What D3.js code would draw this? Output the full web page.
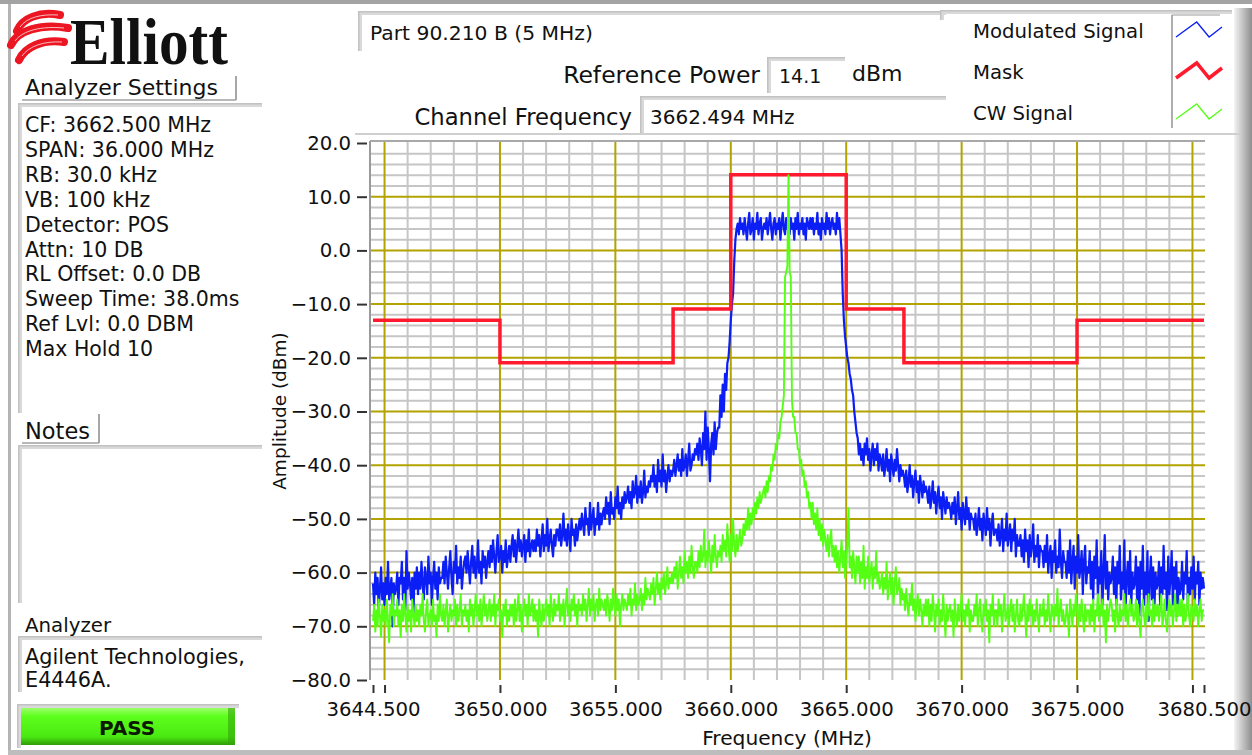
<!DOCTYPE html>
<html>
<head>
<meta charset="utf-8">
<script src="https://cdn.jsdelivr.net/npm/d3@7"></script>
<style>
  body { margin: 0; background: #fff; }
  svg { display: block; }
  text { font-family: "DejaVu Sans", Verdana, sans-serif; fill: #111; }
</style>
</head>
<body>
<svg id="chart" width="1252" height="755"></svg>
<script>
// Sweep: 3644.5 MHz to 3680.5 MHz, one sample every 0.05 MHz (amplitudes in dBm),
// one row per MHz
const sweepStartMHz = 3644.5;
const sweepStepMHz = 0.05;

const modulatedSignal = [
  -62,-66,-60,-64,-61,-67,-63,-59,-65,-62,-66,-61,-64,-58,-65,-63,-61,-70,-62,-64,
  -63,-60,-66,-61,-62,-58,-65,-61,-67,-56,-63,-60,-62,-65,-61,-68,-60,-63,-59,-64,
  -60,-63,-58,-62,-65,-59,-61,-64,-57,-62,-60,-66,-61,-58,-63,-60,-65,-59,-62,-61,
  -61,-58,-62,-57,-60,-63,-59,-56,-61,-64,-58,-60,-55,-62,-59,-61,-57,-63,-60,-58,
  -57,-60,-56,-59,-62,-58,-55,-60,-57,-61,-59,-54,-60,-58,-62,-56,-59,-57,-61,-58,
  -56,-59,-55,-58,-54,-57,-60,-56,-53,-58,-57,-55,-60,-56,-58,-54,-59,-57,-55,-58,
  -55,-53,-57,-54,-58,-55,-52,-56,-54,-57,-55,-53,-58,-54,-56,-52,-57,-55,-54,-56,
  -54,-56,-52,-55,-53,-57,-54,-51,-56,-53,-55,-50,-56,-54,-52,-55,-57,-53,-55,-52,
  -52,-54,-51,-55,-53,-49,-54,-52,-55,-51,-53,-56,-50,-53,-52,-55,-51,-54,-52,-50,
  -52,-49,-51,-53,-48,-51,-50,-53,-47,-52,-50,-48,-53,-50,-51,-47,-52,-49,-51,-49,
  -48,-50,-46,-49,-47,-51,-45,-49,-48,-50,-46,-48,-44,-49,-47,-50,-46,-48,-45,-47,
  -46,-44,-47,-45,-48,-43,-46,-45,-42,-47,-44,-46,-43,-47,-45,-41,-46,-44,-45,-43,
  -44,-42,-43,-40,-44,-42,-45,-39,-43,-41,-44,-38,-43,-41,-45,-42,-40,-43,-41,-42,
  -41,-39,-42,-40,-38,-41,-39,-42,-37,-41,-40,-38,-42,-39,-36,-41,-40,-38,-39,-37,
  -38,-36,-39,-35,-37,-40,-34,-37,-30,-39,-33,-37,-43,-36,-34,-38,-32,-37,-34,-33,
  -33,-27,-31,-25,-30,-23,-26,-21,-20,-17,-13,-10,-8,-2,2,4,5,3,6,4,
  5,3,6,4,2,5,7,3,4,6,2,5,4,7,3,5,6,2,4,5,
  4,6,3,5,7,4,2,5,6,3,5,4,6,2,5,7,4,3,6,4,
  5,3,6,4,5,2,6,4,7,3,5,4,6,3,5,2,6,5,4,6,
  4,6,3,5,4,7,3,5,2,6,4,5,3,7,4,6,3,5,6,4,
  5,3,7,4,6,3,0,-8,-13,-16,-18,-20,-21,-23,-24,-26,-27,-30,-32,-34,
  -35,-38,-36,-39,-37,-40,-36,-38,-35,-39,-37,-41,-38,-36,-40,-37,-39,-36,-41,-38,
  -39,-41,-38,-42,-40,-37,-41,-39,-43,-38,-40,-42,-39,-41,-37,-40,-43,-40,-42,-41,
  -42,-44,-41,-45,-43,-40,-44,-42,-46,-43,-41,-45,-43,-47,-42,-44,-46,-43,-45,-44,
  -45,-47,-44,-48,-46,-43,-47,-45,-49,-46,-44,-48,-46,-50,-45,-47,-49,-46,-48,-47,
  -48,-50,-47,-49,-46,-51,-48,-45,-50,-48,-52,-47,-49,-51,-46,-50,-48,-52,-49,-50,
  -50,-52,-49,-53,-51,-48,-52,-50,-54,-49,-51,-53,-48,-52,-50,-55,-51,-49,-53,-52,
  -52,-54,-51,-55,-53,-50,-56,-52,-54,-49,-55,-53,-51,-56,-52,-54,-50,-57,-53,-55,
  -55,-53,-57,-54,-58,-52,-56,-54,-59,-53,-57,-55,-51,-58,-55,-57,-53,-59,-55,-56,
  -56,-59,-55,-58,-53,-60,-57,-55,-61,-56,-58,-54,-60,-57,-59,-52,-58,-61,-56,-58,
  -58,-61,-56,-60,-54,-62,-58,-55,-63,-57,-60,-53,-61,-59,-56,-64,-58,-55,-62,-59,
  -60,-56,-63,-58,-65,-57,-61,-54,-64,-59,-62,-56,-66,-60,-53,-63,-58,-65,-60,-62,
  -61,-57,-64,-59,-66,-58,-62,-55,-65,-60,-63,-54,-67,-61,-58,-64,-56,-66,-60,-63,
  -62,-57,-65,-59,-68,-58,-63,-55,-66,-60,-64,-56,-69,-61,-57,-65,-59,-67,-60,-63,
  -62,-58,-66,-59,-64,-55,-63,-60,-67,-57,-64,-61,-56,-66,-59,-63,-58,-68,-61,-64,
  -63,-58,-65,-60,-62,-56,-66,-61,-64,-59,-63,-57,-65,-60,-62,-58,-66,-60,-63,-61,
  -63
];

const cwSignal = [
  -69,-66,-71,-67,-70,-65,-68,-72,-66,-69,-67,-70,-65,-69,-73,-66,-68,-64,-70,-67,
  -68,-65,-70,-67,-72,-66,-69,-64,-68,-71,-66,-69,-67,-71,-65,-68,-70,-66,-69,-67,
  -70,-66,-68,-64,-69,-71,-67,-65,-70,-68,-67,-70,-65,-69,-68,-72,-66,-69,-64,-68,
  -69,-66,-70,-67,-65,-71,-68,-66,-69,-67,-68,-65,-70,-66,-69,-67,-64,-70,-67,-68,
  -66,-69,-67,-71,-65,-68,-66,-70,-67,-64,-68,-66,-69,-65,-70,-67,-64,-68,-66,-69,
  -67,-65,-69,-66,-68,-64,-70,-66,-67,-65,-69,-67,-72,-66,-68,-65,-70,-67,-69,-66,
  -68,-66,-70,-65,-69,-67,-64,-69,-66,-71,-67,-65,-68,-66,-70,-64,-68,-67,-65,-69,
  -66,-69,-67,-72,-65,-68,-70,-66,-69,-67,-65,-68,-66,-70,-64,-67,-69,-65,-68,-66,
  -67,-64,-69,-66,-68,-65,-70,-66,-63,-68,-66,-69,-65,-67,-64,-68,-66,-70,-65,-67,
  -66,-68,-64,-67,-65,-69,-66,-63,-68,-65,-67,-64,-69,-66,-65,-68,-63,-67,-65,-66,
  -67,-65,-68,-64,-66,-69,-65,-67,-63,-66,-68,-64,-67,-65,-70,-66,-64,-67,-65,-66,
  -67,-64,-66,-63,-68,-65,-66,-62,-67,-64,-66,-65,-63,-67,-64,-66,-61,-65,-63,-64,
  -65,-62,-64,-61,-66,-63,-60,-64,-62,-65,-61,-63,-60,-64,-62,-59,-63,-61,-62,-60,
  -62,-59,-61,-58,-63,-60,-57,-61,-59,-62,-56,-60,-58,-61,-57,-60,-55,-59,-61,-58,
  -58,-60,-56,-59,-55,-58,-57,-52,-59,-56,-58,-54,-57,-60,-55,-58,-53,-57,-59,-56,
  -57,-55,-58,-53,-56,-54,-57,-51,-55,-58,-53,-56,-50,-55,-57,-53,-56,-54,-52,-55,
  -54,-51,-53,-50,-52,-48,-52,-49,-51,-48,-50,-47,-49,-46,-48,-45,-47,-46,-45,-44,
  -46,-43,-45,-42,-43,-40,-41,-38,-39,-36,-37,-34,-35,-32,-31,-29,-27,-5,-4,-3,
  14,-4,-5,-28,-31,-31,-34,-34,-37,-37,-40,-39,-42,-41,-44,-43,-46,-45,-48,-47,
  -50,-47,-51,-49,-52,-48,-53,-50,-54,-51,-55,-52,-54,-56,-53,-57,-54,-52,-57,-55,
  -58,-55,-59,-56,-60,-57,-54,-59,-56,-61,-58,-55,-48,-59,-57,-61,-56,-59,-62,-57,
  -60,-57,-62,-58,-61,-55,-63,-59,-61,-57,-62,-60,-58,-63,-59,-61,-56,-62,-60,-63,
  -62,-60,-64,-61,-63,-58,-65,-62,-60,-64,-61,-66,-62,-59,-64,-63,-61,-66,-63,-65,
  -64,-67,-63,-66,-68,-64,-66,-62,-67,-65,-69,-66,-64,-68,-65,-67,-70,-66,-68,-65,
  -68,-65,-70,-66,-69,-64,-67,-71,-66,-68,-65,-70,-67,-69,-64,-68,-72,-66,-69,-67,
  -66,-69,-67,-72,-65,-68,-70,-66,-69,-67,-64,-69,-67,-70,-66,-68,-65,-71,-67,-69,
  -69,-66,-68,-64,-70,-67,-65,-69,-71,-66,-68,-65,-69,-67,-73,-66,-68,-64,-70,-67,
  -67,-70,-65,-68,-66,-71,-67,-64,-69,-68,-66,-70,-67,-65,-69,-66,-71,-68,-65,-69,
  -70,-66,-69,-67,-64,-68,-72,-66,-69,-65,-68,-66,-70,-67,-69,-65,-68,-71,-66,-68,
  -68,-65,-70,-67,-69,-64,-68,-71,-66,-67,-69,-66,-68,-63,-70,-67,-65,-69,-67,-70,
  -69,-66,-68,-72,-65,-67,-70,-66,-68,-64,-67,-70,-66,-69,-65,-68,-71,-66,-69,-67,
  -67,-70,-66,-69,-65,-71,-67,-68,-64,-69,-66,-68,-65,-70,-67,-73,-66,-69,-67,-65,
  -66,-69,-67,-71,-65,-68,-70,-66,-69,-67,-68,-64,-69,-66,-70,-67,-65,-68,-66,-69,
  -68,-65,-70,-66,-69,-72,-67,-65,-68,-70,-66,-69,-64,-68,-67,-70,-65,-69,-66,-68,
  -66,-69,-67,-64,-70,-68,-65,-69,-71,-67,-65,-68,-66,-70,-67,-64,-69,-66,-68,-65,
  -68,-65,-70,-66,-69,-67,-64,-68,-70,-66,-67,-69,-65,-68,-66,-70,-67,-65,-69,-67,
  -67
];

// Emission mask: level holds from each edge to the next
const maskEdgesMHz = [3644.5, 3650, 3657.5, 3660, 3665, 3667.5, 3675, 3680.5];
const maskLevels   = [-13, -20.9, -10.9, 14.1, -10.9, -20.9, -13];

// Axis ticks
const xTickValues   = [3644.5, 3645, 3650, 3655, 3660, 3665, 3670, 3675, 3680, 3680.5];
const xTickLabelled = [3644.5, 3650, 3655, 3660, 3665, 3670, 3675, 3680.5];
const yTickValues   = [20, 10, 0, -10, -20, -30, -40, -50, -60, -70, -80];

// Panel texts
const analyzerSettings = [
  "CF: 3662.500 MHz", "SPAN: 36.000 MHz", "RB: 30.0 kHz", "VB: 100 kHz",
  "Detector: POS", "Attn: 10 DB", "RL Offset: 0.0 DB", "Sweep Time: 38.0ms",
  "Ref Lvl: 0.0 DBM", "Max Hold 10"
];
const analyzerModel = ["Agilent Technologies,", "E4446A."];
const legendNames = ["Modulated Signal", "Mask", "CW Signal"];
const legendColors = ["#0a1ef5", "#ff1a2e", "#55ff14"];

const svg = d3.select("#chart");
const defs = svg.append("defs");

// ---------- window frame ----------
const rightEdge = defs.append("linearGradient").attr("id", "rightEdge");
rightEdge.append("stop").attr("offset", "0%").attr("stop-color", "#f4f4f4");
rightEdge.append("stop").attr("offset", "100%").attr("stop-color", "#8e8e8e");

svg.append("rect").attr("x", 0).attr("y", 0).attr("width", 1252).attr("height", 4).attr("fill", "#a3a3a3");
svg.append("rect").attr("x", 8).attr("y", 4).attr("width", 3).attr("height", 746).attr("fill", "#b4b4b4");
svg.append("rect").attr("x", 8).attr("y", 750).attr("width", 1244).attr("height", 5).attr("fill", "#bdbdbd");
svg.append("rect").attr("x", 1234).attr("y", 8).attr("width", 18).attr("height", 742).attr("fill", "url(#rightEdge)");

// recessed panel edges (top + left shading)
function recess(x, y, w, h) {
  svg.append("rect").attr("x", x).attr("y", y).attr("width", w).attr("height", 4).attr("fill", "#d9d9d9");
  svg.append("rect").attr("x", x).attr("y", y).attr("width", 4).attr("height", h).attr("fill", "#d9d9d9");
  svg.append("rect").attr("x", x).attr("y", y).attr("width", w).attr("height", 1.5).attr("fill", "#c2c2c2");
  svg.append("rect").attr("x", x).attr("y", y).attr("width", 1.5).attr("height", h).attr("fill", "#c2c2c2");
}
recess(18, 103, 244, 310);   // settings
recess(18, 445, 244, 158);   // notes
recess(18, 636, 244, 56);    // analyzer model
recess(358, 11, 588, 40);    // part title
recess(767, 57, 78, 36);     // reference power value
recess(640, 96, 306, 38);    // channel frequency value
recess(940, 10, 292, 10);    // legend corner
svg.append("rect").attr("x", 355).attr("y", 133).attr("width", 885).attr("height", 2).attr("fill", "#cfcfcf");

// ---------- logo ----------
const logo = svg.append("g");
[
  "M17,31 C22,18 40,11 60,15",
  "M11,45 C17,31 40,23 68,28",
  "M19,60 C25,47 42,39 64,42"
].forEach(d => logo.append("path").attr("d", d).attr("fill", "none")
  .attr("stroke", "#ec1522").attr("stroke-width", 8).attr("stroke-linecap", "round"));
[
  "M20,27 C27,17 42,14 58,15",
  "M15,41 C23,30 42,26 64,28",
  "M22,56 C29,46 44,41 62,42"
].forEach(d => logo.append("path").attr("d", d).attr("fill", "none")
  .attr("stroke", "#fff").attr("stroke-width", 1).attr("opacity", 0.7));
logo.append("text").attr("x", 70).attr("y", 64)
  .attr("textLength", 158).attr("lengthAdjust", "spacingAndGlyphs")
  .style("font-family", "'Liberation Serif', 'DejaVu Serif', serif")
  .style("font-weight", "bold").style("font-size", "66px").text("Elliott");

// ---------- left panel ----------
function labelBox(x1, x2, yTop, yBot) {
  svg.append("line").attr("x1", x2).attr("x2", x2).attr("y1", yTop).attr("y2", yBot).attr("stroke", "#8a8a8a").attr("stroke-width", 1.5);
  svg.append("line").attr("x1", x1).attr("x2", x2).attr("y1", yBot).attr("y2", yBot).attr("stroke", "#a0a0a0").attr("stroke-width", 1.5);
}
svg.append("text").attr("x", 25).attr("y", 95).style("font-size", "22px").text("Analyzer Settings");
labelBox(22, 236, 76, 100);

svg.append("g").selectAll("text").data(analyzerSettings).join("text")
  .attr("x", 25).attr("y", (d, i) => 132 + i * 24.9)
  .style("font-size", "20.5px").text(d => d);

svg.append("text").attr("x", 25).attr("y", 439).style("font-size", "22.5px").text("Notes");
labelBox(22, 99, 414, 443);

svg.append("text").attr("x", 25).attr("y", 632).style("font-size", "19.8px").text("Analyzer");
svg.append("g").selectAll("text").data(analyzerModel).join("text")
  .attr("x", 25).attr("y", (d, i) => 664 + i * 23)
  .style("font-size", "20.8px").text(d => d);

// PASS indicator
const passGrad = defs.append("linearGradient").attr("id", "passGrad").attr("x1", 0).attr("y1", 0).attr("x2", 0).attr("y2", 1);
passGrad.append("stop").attr("offset", "0%").attr("stop-color", "#9cff6a");
passGrad.append("stop").attr("offset", "22%").attr("stop-color", "#5dff1d");
passGrad.append("stop").attr("offset", "78%").attr("stop-color", "#4ae812");
passGrad.append("stop").attr("offset", "100%").attr("stop-color", "#2f9a08");
recess(17, 704, 222, 44);
svg.append("rect").attr("x", 21).attr("y", 708).attr("width", 214).attr("height", 37).attr("fill", "url(#passGrad)");
svg.append("rect").attr("x", 228).attr("y", 708).attr("width", 7).attr("height", 37).attr("fill", "#33a60a").attr("opacity", 0.6);
svg.append("text").attr("x", 127).attr("y", 735).attr("text-anchor", "middle")
  .style("font-size", "20px").style("font-weight", "bold").style("fill", "#0b1a00").text("PASS");

// ---------- header fields ----------
svg.append("text").attr("x", 370).attr("y", 40).style("font-size", "20.3px").text("Part 90.210 B (5 MHz)");
svg.append("text").attr("x", 760).attr("y", 83).attr("text-anchor", "end").style("font-size", "23.5px").text("Reference Power");
svg.append("text").attr("x", 779).attr("y", 83).style("font-size", "19px").text("14.1");
svg.append("text").attr("x", 852).attr("y", 81).style("font-size", "22px").text("dBm");
svg.append("text").attr("x", 632).attr("y", 125).attr("text-anchor", "end").style("font-size", "22.7px").text("Channel Frequency");
svg.append("text").attr("x", 650).attr("y", 124).style("font-size", "20px").text("3662.494 MHz");

// ---------- legend ----------
const legend = svg.append("g");
legend.selectAll("text").data(legendNames).join("text")
  .attr("x", 973).attr("y", (d, i) => 38 + i * 41)
  .style("font-size", "19.7px").text(d => d);
legend.append("rect").attr("x", 1172).attr("y", 15).attr("width", 52).attr("height", 113).attr("fill", "#fff");
legend.append("line").attr("x1", 1172).attr("x2", 1172).attr("y1", 15).attr("y2", 128).attr("stroke", "#777").attr("stroke-width", 1.2);
legend.append("line").attr("x1", 1172).attr("x2", 1220).attr("y1", 15).attr("y2", 15).attr("stroke", "#999").attr("stroke-width", 1.2);
const glyph = [[0, 15], [0.45, 0], [0.72, 15], [1, 5]];
legendColors.forEach((c, i) => {
  const y0 = 22 + i * 41;
  legend.append("path")
    .attr("d", d3.line()(glyph.map(([u, v]) => [1176 + u * 46, y0 + v])))
    .attr("fill", "none").attr("stroke", c).attr("stroke-width", i === 1 ? 3.5 : 1.3);
});

// ---------- plot ----------
const plot = { left: 370, right: 1205, top: 141, bottom: 680 };
const x = d3.scaleLinear().domain([3644.5, 3680.5]).range([373, 1204]);
const y = d3.scaleLinear().domain([-80, 20]).range([680, 143]);

const g = svg.append("g");
g.append("rect").attr("x", plot.left).attr("y", plot.top)
  .attr("width", plot.right - plot.left).attr("height", plot.bottom - plot.top).attr("fill", "#fff");

// minor grid: 1 MHz / 2 dB
const minorX = d3.range(3645, 3680.5, 1).filter(v => v % 5 !== 0);
const minorY = d3.range(-78, 20, 2).filter(v => v % 10 !== 0);
const majorX = d3.range(3645, 3680.5, 5);
const majorY = d3.range(-70, 11, 10);
g.append("g").selectAll("line").data(minorX).join("line")
  .attr("x1", d => x(d)).attr("x2", d => x(d)).attr("y1", plot.top).attr("y2", plot.bottom)
  .attr("stroke", "#c6c6c6").attr("stroke-width", 2);
g.append("g").selectAll("line").data(minorY).join("line")
  .attr("x1", plot.left).attr("x2", plot.right).attr("y1", d => y(d)).attr("y2", d => y(d))
  .attr("stroke", "#c6c6c6").attr("stroke-width", 2);
g.append("g").selectAll("line").data(majorX).join("line")
  .attr("x1", d => x(d)).attr("x2", d => x(d)).attr("y1", plot.top).attr("y2", plot.bottom)
  .attr("stroke", "#b3a300").attr("stroke-width", 2);
g.append("g").selectAll("line").data(majorY).join("line")
  .attr("x1", plot.left).attr("x2", plot.right).attr("y1", d => y(d)).attr("y2", d => y(d))
  .attr("stroke", "#b3a300").attr("stroke-width", 2);

// frame
g.append("line").attr("x1", plot.left).attr("x2", plot.left).attr("y1", plot.top).attr("y2", plot.bottom).attr("stroke", "#9a9a9a").attr("stroke-width", 2);
g.append("line").attr("x1", plot.left).attr("x2", plot.right).attr("y1", plot.top).attr("y2", plot.top).attr("stroke", "#a8a8a8").attr("stroke-width", 2);

defs.append("clipPath").attr("id", "plotClip").append("rect")
  .attr("x", plot.left).attr("y", plot.top).attr("width", plot.right - plot.left).attr("height", plot.bottom - plot.top);
const traces = g.append("g").attr("clip-path", "url(#plotClip)");

const sweepLine = d3.line()
  .x((d, i) => x(sweepStartMHz + i * sweepStepMHz))
  .y(d => y(d));

traces.append("path").datum(modulatedSignal).attr("d", sweepLine)
  .attr("fill", "none").attr("stroke", "#0a1ef5").attr("stroke-width", 2.2).attr("stroke-linejoin", "round");

const maskPoints = maskLevels.map((lv, i) => [maskEdgesMHz[i], lv])
  .concat([[maskEdgesMHz[maskEdgesMHz.length - 1], maskLevels[maskLevels.length - 1]]]);
traces.append("path").datum(maskPoints)
  .attr("d", d3.line().x(d => x(d[0])).y(d => y(d[1])).curve(d3.curveStepAfter))
  .attr("fill", "none").attr("stroke", "#ff1a2e").attr("stroke-width", 3.5);

traces.append("path").datum(cwSignal).attr("d", sweepLine)
  .attr("fill", "none").attr("stroke", "#55ff14").attr("stroke-width", 1.9).attr("stroke-linejoin", "round");

// axes
const xAxis = d3.axisBottom(x).tickValues(xTickValues).tickSize(8).tickPadding(9)
  .tickFormat(d => xTickLabelled.includes(d) ? d3.format(".3f")(d) : "");
const xg = svg.append("g").attr("transform", "translate(0,685)").call(xAxis);
xg.select(".domain").remove();
xg.selectAll("line").attr("stroke", "#333").attr("stroke-width", 2);
xg.selectAll("text").style("font-size", "19.7px").attr("fill", "#111");

const yAxis = d3.axisLeft(y).tickValues(yTickValues).tickSize(10).tickPadding(6)
  .tickFormat(d3.format(".1f"));
const yg = svg.append("g").attr("transform", "translate(367,0)").call(yAxis);
yg.select(".domain").remove();
yg.selectAll("line").attr("stroke", "#333").attr("stroke-width", 2);
yg.selectAll("text").style("font-size", "19.7px").attr("fill", "#111");

svg.append("text").attr("x", 787).attr("y", 745).attr("text-anchor", "middle")
  .style("font-size", "20.2px").text("Frequency (MHz)");
svg.append("text").attr("transform", "translate(286,411) rotate(-90)").attr("text-anchor", "middle")
  .style("font-size", "18.5px").text("Amplitude (dBm)");
</script>
</body>
</html>
